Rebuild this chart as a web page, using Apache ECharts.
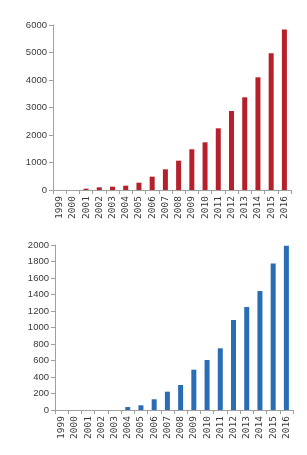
<!DOCTYPE html>
<html><head><meta charset="utf-8">
<script src="https://cdn.jsdelivr.net/npm/echarts@6/dist/echarts.min.js"></script>
<style>html,body{margin:0;padding:0;background:#fff}#c{width:307px;height:455px}</style>
</head><body><div id="c"></div>
<script>
const years = ['1999','2000','2001','2002','2003','2004','2005','2006','2007','2008','2009','2010','2011','2012','2013','2014','2015','2016'];
const topValues = [0,0,48,97,121,157,267,485,752,1066,1480,1734,2243,2873,3370,4098,4970,5840];
const bottomValues = [0,0,0,0,0,36,57,130,222,303,489,606,748,1091,1248,1442,1776,1990];

const axisGray = '#a0a0a0';
const labelColor = '#3a3a3a';
function xAxis(gi){
  return {type:'category',gridIndex:gi,data:years,
    axisLine:{lineStyle:{color:axisGray}},
    axisTick:{show:true,alignWithLabel:false,length:4,lineStyle:{color:axisGray}},
    axisLabel:{rotate:90,interval:0,fontSize:9.5,color:labelColor,fontFamily:'DejaVu Sans Mono',margin:6}};
}
function yAxis(gi,max,interval){
  return {type:'value',gridIndex:gi,min:0,max:max,interval:interval,
    axisLine:{show:true,lineStyle:{color:axisGray}},
    axisTick:{show:true,length:4,lineStyle:{color:axisGray}},
    splitLine:{show:false},
    axisLabel:{fontSize:9.5,color:labelColor,fontFamily:'Liberation Sans',margin:6,formatter:v=>String(v)}};
}
const chart = echarts.init(document.getElementById('c'),null,{renderer:'canvas'});
chart.setOption({
  animation:false,
  grid:[{left:53,top:25,width:238,height:165},{left:55,top:245,width:238,height:165}],
  xAxis:[xAxis(0),xAxis(1)],
  yAxis:[yAxis(0,6000,1000),yAxis(1,2000,200)],
  series:[
    {type:'bar',xAxisIndex:0,yAxisIndex:0,data:topValues,barWidth:5,itemStyle:{color:'#b5202a'}},
    {type:'bar',xAxisIndex:1,yAxisIndex:1,data:bottomValues,barWidth:5,itemStyle:{color:'#2a6db5'}}
  ]
});
</script></body></html>
